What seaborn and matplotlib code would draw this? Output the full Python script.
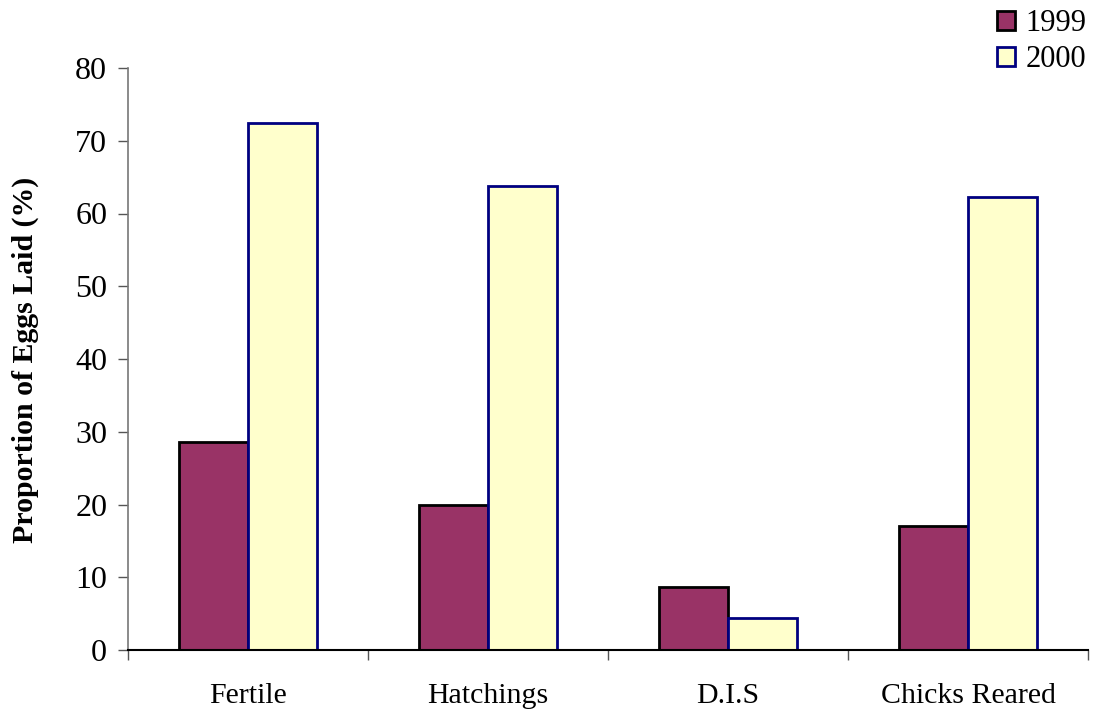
import matplotlib
matplotlib.use("Agg")
import matplotlib.pyplot as plt
import seaborn as sns
import pandas as pd
from matplotlib.patches import Patch

categories = ["Fertile", "Hatchings", "D.I.S", "Chicks Reared"]
years = ["1999", "2000"]
values_1999 = [28.6, 20.0, 8.6, 17.1]
values_2000 = [72.5, 63.8, 4.4, 62.3]
yticks = [0, 10, 20, 30, 40, 50, 60, 70, 80]

fills = {"1999": "#993366", "2000": "#FFFFCC"}
edges = {"1999": "#000000", "2000": "#000080"}

df = pd.DataFrame({
    "category": categories * 2,
    "year": ["1999"] * 4 + ["2000"] * 4,
    "value": values_1999 + values_2000,
})

sns.set_style("white")
plt.rcParams["font.family"] = ["Liberation Serif", "DejaVu Serif"]
plt.rcParams["text.color"] = "black"
plt.rcParams["xtick.color"] = "black"
plt.rcParams["ytick.color"] = "black"
plt.rcParams["axes.labelcolor"] = "black"

fig = plt.figure(figsize=(10.94, 7.17), dpi=100)
ax = fig.add_axes([128 / 1094, 67 / 717, 960 / 1094, 582 / 717])

sns.barplot(data=df, x="category", y="value", hue="year", order=categories,
            hue_order=years, palette=fills, width=0.575, dodge=True,
            legend=False, ax=ax, saturation=1)

for container, yr in zip(ax.containers, years):
    for bar in container:
        bar.set_edgecolor(edges[yr])
        bar.set_linewidth(2)

ax.set_xlim(-0.5, len(categories) - 0.5)
ax.set_ylim(0, 80)
ax.set_yticks(yticks)
ax.set_yticklabels([str(t) for t in yticks], fontsize=23)
ax.set_xticks(range(len(categories)))
ax.set_xticklabels(categories, fontsize=21.5)
ax.set_xticks([i - 0.5 for i in range(len(categories) + 1)], minor=True)
ax.tick_params(axis="x", which="major", bottom=True, length=0, pad=24)
ax.tick_params(axis="x", which="minor", bottom=True, length=7, width=1,
               color="#555555", direction="out")
ax.tick_params(axis="y", left=True, length=7, width=1, color="#555555",
               direction="out", pad=8)
ax.set_xlabel("")
ax.set_ylabel("")
fig.text(25 / 1094, 1 - 360 / 717, "Proportion of Eggs Laid (%)", rotation=90,
         ha="center", va="center", fontsize=21.5, fontweight="bold")

for side in ["top", "right"]:
    ax.spines[side].set_visible(False)
ax.spines["left"].set_color("#777777")
ax.spines["left"].set_linewidth(1.2)
ax.spines["bottom"].set_color("#000000")
ax.spines["bottom"].set_linewidth(1.5)

handles = [Patch(facecolor=fills[y], edgecolor=edges[y], linewidth=2, label=y) for y in years]
fig.legend(handles=handles, loc="upper right",
           bbox_to_anchor=(1.0 + 8 / 1094, 1.0 + 6 / 717),
           frameon=False, fontsize=22, handlelength=0.6, handleheight=0.6,
           handletextpad=0.35, labelspacing=0.22, borderaxespad=0.1)

fig.savefig("out.png", dpi=100)
